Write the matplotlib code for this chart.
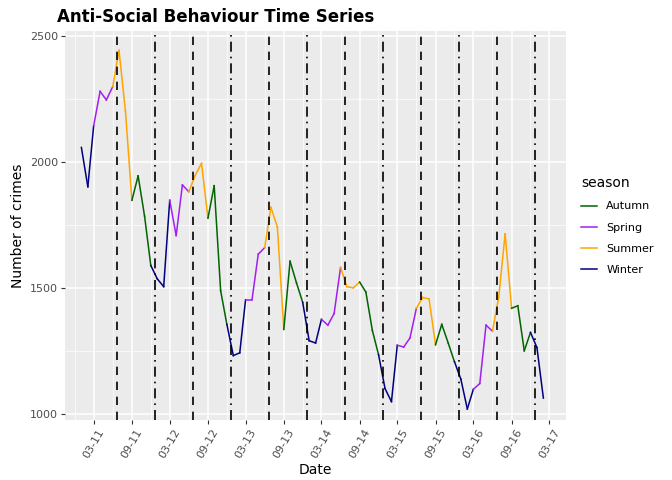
import matplotlib
matplotlib.use("Agg")
import matplotlib.pyplot as plt
import matplotlib.dates as mdates
import numpy as np
import pandas as pd

# monthly counts, Jan 2011 - Feb 2017
crimes = [2058, 1902, 2144, 2281, 2247, 2300, 2444, 2202, 1848, 1945, 1785, 1589,
          1536, 1505, 1848, 1708, 1909, 1882, 1946, 1995, 1777, 1906, 1489, 1355,
          1231, 1242, 1453, 1453, 1634, 1660, 1820, 1742, 1335, 1606, 1520, 1442,
          1290, 1281, 1375, 1352, 1398, 1581, 1505, 1500, 1523, 1483, 1331, 1234,
          1100, 1048, 1272, 1265, 1301, 1419, 1462, 1456, 1274, 1355, 1281, 1207,
          1137, 1019, 1097, 1120, 1352, 1328, 1462, 1715, 1419, 1429, 1250, 1323,
          1263, 1062]
dates = pd.date_range("2011-01-01", periods=len(crimes), freq="MS")
season_of_month = {12: "Winter", 1: "Winter", 2: "Winter", 3: "Spring", 4: "Spring", 5: "Spring",
                   6: "Summer", 7: "Summer", 8: "Summer", 9: "Autumn", 10: "Autumn", 11: "Autumn"}
season_colors = {"Autumn": "darkgreen", "Spring": "#A020F0", "Summer": "orange", "Winter": "#000080"}
summer_lines = pd.to_datetime(["2011-06-21", "2012-06-21", "2013-06-21", "2014-06-21", "2015-06-21", "2016-06-21"])
winter_lines = pd.to_datetime(["2011-12-21", "2012-12-21", "2013-12-21", "2014-12-21", "2015-12-21", "2016-12-21"])
ticks = pd.date_range("2011-03-01", "2017-03-01", freq="6MS")

fig = plt.figure(figsize=(6.72, 4.8), dpi=100)
ax = fig.add_axes([0.097, 0.125, 0.745, 0.81])
ax.set_facecolor("#EBEBEB")
for s in ax.spines.values():
    s.set_visible(False)

x = mdates.date2num(dates)
for i in range(len(crimes) - 1):
    c = season_colors[season_of_month[dates[i].month]]
    ax.plot(x[i:i + 2], crimes[i:i + 2], color=c, lw=1.1, zorder=3)

for d in summer_lines:
    ax.axvline(d, color="black", ls=(0, (5, 4)), lw=1.2, zorder=4)
for d in winter_lines:
    ax.axvline(d, color="black", ls=(0, (6, 3, 1, 3)), lw=1.2, zorder=4)

for name, col in season_colors.items():
    ax.plot([], [], color=col, lw=1.1, label=name)

xmin, xmax = mdates.date2num(pd.Timestamp("2010-10-15")), mdates.date2num(pd.Timestamp("2017-05-20"))
ax.set_xlim(xmin, xmax)
ax.set_ylim(975, 2520)
ax.set_yticks([1000, 1500, 2000, 2500])
ax.set_yticks([1250, 1750, 2250], minor=True)
ax.set_xticks(mdates.date2num(ticks))
minor = mdates.date2num(ticks[:-1]) + np.diff(mdates.date2num(ticks)) / 2
ax.set_xticks(list(minor) + [mdates.date2num(ticks[0]) - 91], minor=True)
ax.set_xticklabels([d.strftime("%m-%y") for d in ticks], rotation=60, ha="center", va="top")
ax.grid(which="major", color="white", lw=1.1)
ax.grid(which="minor", color="white", lw=0.5)
ax.set_axisbelow(True)
ax.tick_params(which="major", length=3, color="#333333", labelsize=8, labelcolor="#4D4D4D", pad=2)
ax.tick_params(which="minor", length=0)
ax.set_xlabel("Date", fontsize=10, labelpad=2)
ax.set_ylabel("Number of crimes", fontsize=10)
fig.text(0.085, 0.955, "Anti-Social Behaviour Time Series", fontsize=12, fontweight="bold")

leg = ax.legend(title="season", loc="center left", bbox_to_anchor=(1.01, 0.5), frameon=False,
                fontsize=8, handlelength=1.5, labelspacing=1.0)
leg.get_title().set_fontsize(10)
leg._legend_box.align = "left"
for h in leg.legend_handles:
    h.set_linewidth(1.1)

fig.savefig("out.png", dpi=100)
